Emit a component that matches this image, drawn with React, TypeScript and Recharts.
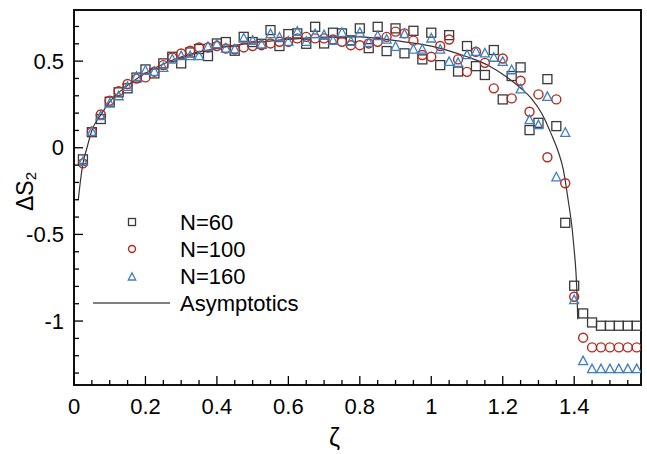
import React from 'react';
import {
  ComposedChart, Scatter, Line, XAxis, YAxis, Legend, ReferenceArea,
} from 'recharts';

// zeta grid of the numerical points (step 0.025)
const zetas = [
  0.025, 0.05, 0.075, 0.1, 0.125, 0.15, 0.175, 0.2, 0.225, 0.25,
  0.275, 0.3, 0.325, 0.35, 0.375, 0.4, 0.425, 0.45, 0.475, 0.5,
  0.525, 0.55, 0.575, 0.6, 0.625, 0.65, 0.675, 0.7, 0.725, 0.75,
  0.775, 0.8, 0.825, 0.85, 0.875, 0.9, 0.925, 0.95, 0.975, 1.0,
  1.025, 1.05, 1.075, 1.1, 1.125, 1.15, 1.175, 1.2, 1.225, 1.25,
  1.275, 1.3, 1.325, 1.35, 1.375, 1.4, 1.425, 1.45, 1.475, 1.5,
  1.525, 1.55, 1.575,
];

const n60 = [
  -0.067, 0.09, 0.166, 0.266, 0.32, 0.343, 0.405, 0.452, 0.429, 0.487,
  0.525, 0.487, 0.55, 0.57, 0.529, 0.602, 0.61, 0.56, 0.64, 0.61,
  0.6, 0.679, 0.587, 0.656, 0.66, 0.6, 0.698, 0.602, 0.664, 0.66,
  0.62, 0.689, 0.575, 0.698, 0.558, 0.689, 0.545, 0.675, 0.51, 0.664,
  0.477, 0.65, 0.44, 0.587, 0.471, 0.42, 0.564, 0.279, 0.414, 0.464,
  0.102, 0.144, 0.396, 0.125, -0.433, -0.796, -0.956, -1.008, -1.027, -1.027,
  -1.027, -1.027, -1.027,
];

const n100 = [
  -0.09, 0.092, 0.192, 0.272, 0.327, 0.368, 0.399, 0.406, 0.439, 0.477,
  0.521, 0.544, 0.56, 0.579, 0.579, 0.587, 0.573, 0.568, 0.579, 0.587,
  0.592, 0.602, 0.612, 0.612, 0.631, 0.64, 0.631, 0.631, 0.625, 0.612,
  0.592, 0.592, 0.602, 0.612, 0.64, 0.67, 0.66, 0.618, 0.535, 0.525,
  0.587, 0.625, 0.51, 0.438, 0.554, 0.49, 0.343, 0.515, 0.285, 0.387,
  0.208, 0.308, -0.055, 0.279, -0.205, -0.86, -1.096, -1.152, -1.152, -1.152,
  -1.152, -1.152, -1.152,
];

const n160 = [
  -0.08, 0.092, 0.183, 0.256, 0.298, 0.352, 0.41, 0.445, 0.439, 0.462,
  0.51, 0.529, 0.529, 0.529, 0.583, 0.598, 0.573, 0.568, 0.631, 0.618,
  0.596, 0.656, 0.637, 0.612, 0.67, 0.612, 0.656, 0.65, 0.618, 0.664,
  0.612, 0.664, 0.606, 0.645, 0.625, 0.583, 0.656, 0.567, 0.567, 0.631,
  0.567, 0.496, 0.49, 0.535, 0.554, 0.545, 0.52, 0.496, 0.448, 0.337,
  0.16, 0.131, 0.294, -0.17, 0.087, -0.879, -1.231, -1.277, -1.277, -1.277,
  -1.277, -1.277, -1.277,
];

// asymptotic curve
const asymZ = [
  0.012, 0.02, 0.027, 0.035, 0.05, 0.075, 0.1, 0.15, 0.2, 0.275,
  0.35, 0.425, 0.5, 0.6, 0.7, 0.8, 0.9, 1.0, 1.1, 1.16,
  1.21, 1.25, 1.28, 1.31, 1.335, 1.355, 1.37, 1.383, 1.395, 1.4,
  1.405, 1.408, 1.41,
];
const asymV = [
  -0.3, -0.16, -0.07, -0.01, 0.1, 0.19, 0.265, 0.36, 0.43, 0.505,
  0.553, 0.583, 0.605, 0.625, 0.638, 0.64, 0.618, 0.587, 0.525, 0.475,
  0.41, 0.345, 0.285, 0.195, 0.083, -0.02, -0.13, -0.3, -0.48, -0.59,
  -0.72, -0.85, -0.99,
];

const xTicks = [
  0, 0.05, 0.1, 0.15, 0.2, 0.25, 0.3, 0.35, 0.4, 0.45, 0.5, 0.55, 0.6, 0.65,
  0.7, 0.75, 0.8, 0.85, 0.9, 0.95, 1, 1.05, 1.1, 1.15, 1.2, 1.25, 1.3, 1.35,
  1.4, 1.45, 1.5, 1.55,
];
const yTicks = [
  -1.3, -1.2, -1.1, -1, -0.9, -0.8, -0.7, -0.6, -0.5, -0.4, -0.3, -0.2, -0.1,
  0, 0.1, 0.2, 0.3, 0.4, 0.5, 0.6, 0.7,
];

const X_DOMAIN = [0, 1.587];
const Y_DOMAIN = [-1.369, 0.795];

const FONT = '"Liberation Sans", Arial, Helvetica, sans-serif';
const SQ = '#3a3a3a';
const RED = '#b22a1e';
const BLUE = '#3f7fc0';

const pts = (vals: number[]) => vals.map((v, i) => ({ z: zetas[i], v }));
const d60 = pts(n60);
const d100 = pts(n100);
const d160 = pts(n160);
const asym = asymV.map((v, i) => ({ z: asymZ[i], v }));

const isMultiple = (v: number, step: number) =>
  Math.abs(v / step - Math.round(v / step)) < 1e-6;
const fmt = (v: number) => String(Number(v.toFixed(2)));

function XTick(props: any) {
  const { x, y, payload } = props;
  const major = isMultiple(payload.value, 0.2);
  return (
    <g>
      <line x1={x} x2={x} y1={y} y2={y - (major ? 9 : 5)} stroke="#000" strokeWidth={1.3} />
      {major && (
        <text x={x} y={y + 21} textAnchor="middle" dominantBaseline="central"
          fontSize={22} fontFamily={FONT} fill="#000">
          {fmt(payload.value)}
        </text>
      )}
    </g>
  );
}

function YTick(props: any) {
  const { x, y, payload } = props;
  const major = isMultiple(payload.value, 0.5);
  return (
    <g>
      <line x1={x} x2={x + (major ? 9 : 5)} y1={y} y2={y} stroke="#000" strokeWidth={1.3} />
      {major && (
        <text x={x - 10} y={y} textAnchor="end" dominantBaseline="central"
          fontSize={22} fontFamily={FONT} fill="#000">
          {fmt(payload.value)}
        </text>
      )}
    </g>
  );
}

const Square = ({ cx, cy, s = 9 }: any) => (
  <rect x={cx - s / 2} y={cy - s / 2} width={s} height={s} fill="none" stroke={SQ} strokeWidth={1.3} />
);
const Circle = ({ cx, cy, r = 4.5 }: any) => (
  <circle cx={cx} cy={cy} r={r} fill="none" stroke={RED} strokeWidth={1.4} />
);
const Triangle = ({ cx, cy, s = 9 }: any) => (
  <polygon
    points={`${cx},${cy - s * 0.55} ${cx - s / 2},${cy + s * 0.4} ${cx + s / 2},${cy + s * 0.4}`}
    fill="none" stroke={BLUE} strokeWidth={1.3}
  />
);

function LegendBox() {
  const mx = 52;
  const tx = 100;
  const rows = [17, 44, 71, 98];
  const txt = (y: number, s: string) => (
    <text x={tx} y={y} dominantBaseline="central" fontSize={22} fontFamily={FONT} fill="#000">{s}</text>
  );
  return (
    <svg width={240} height={115}>
      <Square cx={mx} cy={rows[0]} s={7} />
      {txt(rows[0], 'N=60')}
      <Circle cx={mx} cy={rows[1]} r={3.5} />
      {txt(rows[1], 'N=100')}
      <Triangle cx={mx} cy={rows[2] + 1} s={7.5} />
      {txt(rows[2], 'N=160')}
      <line x1={13} x2={90} y1={rows[3]} y2={rows[3]} stroke="#555" strokeWidth={1.5} />
      {txt(rows[3], 'Asymptotics')}
    </svg>
  );
}

export default function App() {
  return (
    <div style={{ position: 'absolute', left: 0, top: 0, width: 647, height: 454, background: '#fff' }}>
      <ComposedChart width={647} height={454} margin={{ top: 10, right: 6, left: 0, bottom: 0 }}>
        <XAxis
          dataKey="z"
          type="number"
          domain={X_DOMAIN}
          allowDataOverflow
          ticks={xTicks}
          interval={0}
          height={69}
          tickSize={0}
          tickMargin={0}
          tickLine={false}
          axisLine={false}
          tick={(p: any) => <XTick {...p} />}
          label={{
            content: (p: any) => {
              const vb = p.viewBox;
              return (
                <text x={vb.x + vb.width / 2 - 23} y={vb.y + 52} textAnchor="middle"
                  dominantBaseline="central" fontSize={25} fontFamily={FONT} fill="#000">ζ</text>
              );
            },
          }}
        />
        <YAxis
          dataKey="v"
          type="number"
          domain={Y_DOMAIN}
          allowDataOverflow
          ticks={yTicks}
          interval={0}
          width={74}
          tickSize={0}
          tickMargin={0}
          tickLine={false}
          axisLine={false}
          tick={(p: any) => <YTick {...p} />}
          label={{
            content: (p: any) => {
              const vb = p.viewBox;
              const cx = 25;
              const cy = vb.y + vb.height / 2 - 6;
              return (
                <text transform={`translate(${cx},${cy}) rotate(-90)`} textAnchor="middle"
                  dominantBaseline="central" fontSize={23} fontFamily={FONT} fill="#000">
                  ΔS<tspan fontSize={15} dy={5}>2</tspan>
                </text>
              );
            },
          }}
        />
        <ReferenceArea
          x1={X_DOMAIN[0]} x2={X_DOMAIN[1]} y1={Y_DOMAIN[0]} y2={Y_DOMAIN[1]}
          fill="none" stroke="#111" strokeWidth={2} fillOpacity={0} ifOverflow="visible"
        />
        <Line
          data={asym} dataKey="v" type="monotone" stroke="#333" strokeWidth={1.2}
          dot={false} activeDot={false} isAnimationActive={false} legendType="none"
        />
        <Scatter data={d60} dataKey="v" name="N=60" shape={(p: any) => <Square cx={p.cx} cy={p.cy} />} isAnimationActive={false} />
        <Scatter data={d100} dataKey="v" name="N=100" shape={(p: any) => <Circle cx={p.cx} cy={p.cy} />} isAnimationActive={false} />
        <Scatter data={d160} dataKey="v" name="N=160" shape={(p: any) => <Triangle cx={p.cx} cy={p.cy} />} isAnimationActive={false} />
        <Legend
          layout="vertical"
          align="center"
          verticalAlign="middle"
          wrapperStyle={{ left: 80, top: 205, width: 240, height: 115 }}
          content={() => <LegendBox />}
        />
      </ComposedChart>
    </div>
  );
}
